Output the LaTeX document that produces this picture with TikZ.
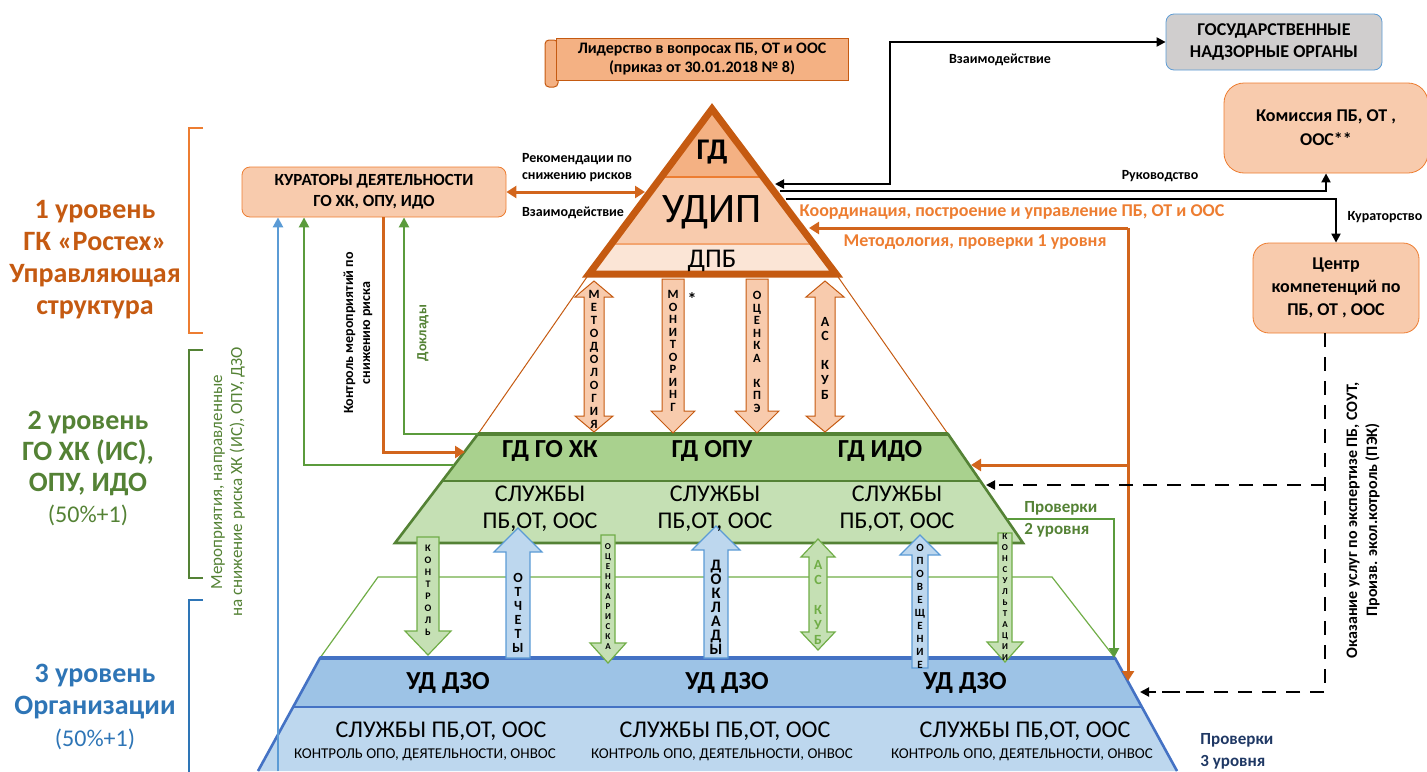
\documentclass[tikz,border=0pt]{standalone}
\usepackage{fontspec}
\setmainfont{Carlito}
\usepackage{xcolor}
\usepackage{tikz}
\usetikzlibrary{arrows.meta,positioning,calc}

\definecolor{orDark}{HTML}{C55A11}
\definecolor{orMid}{HTML}{ED7D31}
\definecolor{orLine}{HTML}{D2651C}
\definecolor{peachA}{HTML}{F4B183}
\definecolor{peachB}{HTML}{F8CBAD}
\definecolor{peachC}{HTML}{FBE5D6}
\definecolor{grDark}{HTML}{548235}
\definecolor{grMid}{HTML}{70AD47}
\definecolor{grLine}{HTML}{5B9B3C}
\definecolor{grA}{HTML}{A9D18E}
\definecolor{grB}{HTML}{C5E0B4}
\definecolor{blDark}{HTML}{4472C4}
\definecolor{blMid}{HTML}{5B9BD5}
\definecolor{blText}{HTML}{2E75B6}
\definecolor{blA}{HTML}{9DC3E6}
\definecolor{blB}{HTML}{BDD7EE}
\definecolor{navy}{HTML}{1F3864}
\definecolor{greyBox}{HTML}{D0CECE}

% block arrows: style, x, y from, y to, half shaft, half head, head length
\newcommand{\arrdown}[7]{\draw[#1] ({#2-#5},#3) -- ({#2+#5},#3) -- ({#2+#5},{#4-#7}) -- ({#2+#6},{#4-#7}) -- (#2,#4) -- ({#2-#6},{#4-#7}) -- ({#2-#5},{#4-#7}) -- cycle;}
\newcommand{\arrup}[7]{\draw[#1] ({#2-#5},#4) -- ({#2+#5},#4) -- ({#2+#5},{#3+#7}) -- ({#2+#6},{#3+#7}) -- (#2,#3) -- ({#2-#6},{#3+#7}) -- ({#2-#5},{#3+#7}) -- cycle;}
\newcommand{\arrboth}[7]{\draw[#1] (#2,#3) -- ({#2+#6},{#3+#7}) -- ({#2+#5},{#3+#7}) -- ({#2+#5},{#4-#7}) -- ({#2+#6},{#4-#7}) -- (#2,#4) -- ({#2-#6},{#4-#7}) -- ({#2-#5},{#4-#7}) -- ({#2-#5},{#3+#7}) -- ({#2-#6},{#3+#7}) -- cycle;}

\begin{document}
\begin{tikzpicture}[x=0.5pt, y=-0.5pt,
    every node/.style={inner sep=1pt},
    box/.style={draw, rounded corners=4pt, align=center, font=\fontsize{8.5}{10.5}\selectfont\bfseries},
    lbl/.style={align=center, font=\fontsize{7}{8.5}\selectfont\bfseries},
    olbl/.style={align=center, text=orMid, font=\fontsize{9}{11}\selectfont\bfseries},
    stack/.style={align=center, inner sep=0pt},
    bline/.style={draw, line width=1pt, -{Triangle[length=4.5pt,width=4.5pt]}},
    oline/.style={draw=orLine, line width=1.5pt, -{Triangle[length=5pt,width=6pt]}},
    gline/.style={draw=grLine, line width=1.2pt, -{Triangle[length=5pt,width=5pt]}},
    dline/.style={draw, line width=1pt, dash pattern=on 7pt off 5pt},
    upar/.style={draw=orDark, fill=peachB, line width=0.5pt},
    grar/.style={draw=grMid, fill=grB, line width=0.6pt},
    blar/.style={draw=blMid, fill=blB, line width=0.6pt},
]
\useasboundingbox (0,0) rectangle (1427,771);

% key points
\coordinate (apex) at (712,109);
\coordinate (tBL) at (589,274);
\coordinate (tBR) at (836,274);
\coordinate (gTL) at (478,434);
\coordinate (gTR) at (948,434);
\coordinate (gBR) at (1023,543);
\coordinate (gBL) at (395,543);
\coordinate (bTL) at (320,658);
\coordinate (bTR) at (1115,658);
\coordinate (bBR) at (1177,771);
\coordinate (bBL) at (258,771);

% thin level outlines
\draw[orDark, line width=0.5pt] (tBL) -- (gTL) (tBR) -- (gTR);
\draw[grMid, line width=0.6pt] (bTL) -- (378,577) -- (1052,577) -- (bTR);

% level 3
\fill[blA] (bTL) -- (bTR) -- (1142,707) -- (293,707) -- cycle;
\fill[blB] (293,707) -- (1142,707) -- (bBR) -- (bBL) -- cycle;
\draw[blDark, line width=0.8pt] (293,707) -- (1142,707);
\draw[blDark, line width=1.3pt] (bBL) -- (bTL) -- (bTR) -- (bBR);
\draw[blDark, line width=1.8pt] (bTL) -- (bTR);

% level 2
\fill[grA] (gTL) -- (gTR) -- (980,481) -- (442,481) -- cycle;
\fill[grB] (442,481) -- (980,481) -- (gBR) -- (gBL) -- cycle;
\draw[grDark, line width=1pt] (442,481) -- (980,481);
\draw[grDark, line width=1.3pt] (gTL) -- (gTR) -- (gBR) -- (gBL) -- cycle;
\draw[grDark, line width=2.2pt] (gTL) -- (gTR);

% level 1
\fill[peachA] (apex) -- (659,177) -- (765,177) -- cycle;
\fill[peachB] (659,177) -- (765,177) -- (815,244) -- (610,244) -- cycle;
\fill[peachC] (610,244) -- (815,244) -- (tBR) -- (tBL) -- cycle;
\draw[orMid, line width=1pt] (659,177) -- (765,177);
\draw[orMid!70, line width=0.7pt] (610,244) -- (815,244);
\draw[orDark, line width=3.5pt, line join=miter] (apex) -- (tBL) -- (tBR) -- cycle;

% block arrows 1 -> 2
\arrboth{upar}{594}{281}{432}{10}{19}{16}
\arrdown{upar}{673}{279}{433}{11}{22}{22}
\arrdown{upar}{757}{279}{433}{11}{22}{22}
\arrboth{upar}{825}{281}{432}{10}{19}{16}

% block arrows 2 <-> 3
\arrdown{grar}{428}{537}{655}{11}{23}{24}
\arrup{blar}{518}{528}{658}{12}{24}{24}
\arrdown{grar}{608}{535}{663}{7}{18}{20}
\arrup{blar}{716}{526}{658}{12}{24}{24}
\arrboth{grar}{818}{539}{650}{9}{17}{18}
\arrup{blar}{920}{535}{668}{8}{20}{20}
\arrdown{grar}{1005}{533}{662}{7}{18}{20}

% arrow letters
\node[stack, font=\fontsize{6.3}{6.5}\selectfont\bfseries] (sMet) at (594,359) {М\\Е\\Т\\О\\Д\\О\\Л\\О\\Г\\И\\Я};
\node[stack, font=\fontsize{6.3}{6.25}\selectfont\bfseries] (sMon) at (673,351) {М\\О\\Н\\И\\Т\\О\\Р\\И\\Н\\Г};
\node[stack, font=\fontsize{6.3}{6.25}\selectfont\bfseries] (sKpe) at (757,352) {О\\Ц\\Е\\Н\\К\\А\\[6.25pt]К\\П\\Э};
\node[stack, font=\fontsize{7}{7.3}\selectfont\bfseries] (sKub) at (825,358) {А\\С\\[7.3pt]К\\У\\Б};
\node[font=\fontsize{9}{9}\selectfont\bfseries] (star) at (692,299) {*};

\node[stack, font=\fontsize{5}{6}\selectfont\bfseries] (sKon) at (428,590) {К\\О\\Н\\Т\\Р\\О\\Л\\Ь};
\node[stack, font=\fontsize{7}{7}\selectfont\bfseries] (sOtc) at (518,613) {О\\Т\\Ч\\Е\\Т\\Ы};
\node[stack, font=\fontsize{4.5}{5}\selectfont\bfseries] (sRis) at (608,597) {О\\Ц\\Е\\Н\\К\\А\\Р\\И\\С\\К\\А};
\node[stack, font=\fontsize{8}{7}\selectfont\bfseries] (sDok) at (716,607) {Д\\О\\К\\Л\\А\\Д\\Ы};
\node[stack, text=grMid, font=\fontsize{7}{7.5}\selectfont\bfseries] (sKub2) at (818,602) {А\\С\\[7.5pt]К\\У\\Б};
\node[stack, font=\fontsize{5.5}{6.5}\selectfont\bfseries] (sOpo) at (920,606) {О\\П\\О\\В\\Е\\Щ\\Е\\Н\\И\\Е};
\node[stack, font=\fontsize{4.5}{5.5}\selectfont\bfseries] (sKons) at (1005,597) {К\\О\\Н\\С\\У\\Л\\Ь\\Т\\А\\Ц\\И\\И};

% pyramid texts
\node[font=\fontsize{15}{15}\selectfont\bfseries] (gd) at (712,152) {ГД};
\node[font=\fontsize{21}{21}\selectfont] (udip) at (712,212) {УДИП};
\node[font=\fontsize{13.5}{13.5}\selectfont] (dpb) at (712,261) {ДПБ};

\node[font=\fontsize{13}{13}\selectfont\bfseries] (gdGo) at (550,451) {ГД ГО ХК};
\node[font=\fontsize{13}{13}\selectfont\bfseries] (gdOpu) at (712,451) {ГД ОПУ};
\node[font=\fontsize{13}{13}\selectfont\bfseries] (gdIdo) at (880,451) {ГД ИДО};
\node[align=center, font=\fontsize{12}{13.5}\selectfont] (srv1) at (540,509) {СЛУЖБЫ\\ПБ,ОТ, ООС};
\node[align=center, font=\fontsize{12}{13.5}\selectfont] (srv2) at (715,509) {СЛУЖБЫ\\ПБ,ОТ, ООС};
\node[align=center, font=\fontsize{12}{13.5}\selectfont] (srv3) at (897,509) {СЛУЖБЫ\\ПБ,ОТ, ООС};

\node[font=\fontsize{13}{13}\selectfont\bfseries] (ud1) at (448,683) {УД ДЗО};
\node[font=\fontsize{13}{13}\selectfont\bfseries] (ud2) at (727,683) {УД ДЗО};
\node[font=\fontsize{13}{13}\selectfont\bfseries] (ud3) at (965,683) {УД ДЗО};
\node[font=\fontsize{12}{12}\selectfont] (srvB1) at (441,731) {СЛУЖБЫ ПБ,ОТ, ООС};
\node[font=\fontsize{12}{12}\selectfont] (srvB2) at (725,731) {СЛУЖБЫ ПБ,ОТ, ООС};
\node[font=\fontsize{12}{12}\selectfont] (srvB3) at (1025,731) {СЛУЖБЫ ПБ,ОТ, ООС};
\node[font=\fontsize{7.5}{7.5}\selectfont] (ctl1) at (425,755) {КОНТРОЛЬ ОПО, ДЕЯТЕЛЬНОСТИ, ОНВОС};
\node[font=\fontsize{7.5}{7.5}\selectfont] (ctl2) at (722,755) {КОНТРОЛЬ ОПО, ДЕЯТЕЛЬНОСТИ, ОНВОС};
\node[font=\fontsize{7.5}{7.5}\selectfont] (ctl3) at (1022,755) {КОНТРОЛЬ ОПО, ДЕЯТЕЛЬНОСТИ, ОНВОС};

% boxes
\draw[orDark, fill=peachA, line width=0.5pt, rounded corners=2pt] (545,40) rectangle (558,87);
\node[draw=orDark, fill=peachA, line width=0.5pt, minimum width=146pt, minimum height=21pt, align=center,
      font=\fontsize{8}{9.5}\selectfont\bfseries] (lead) at (702,59)
      {Лидерство в вопросах ПБ, ОТ и ООС\\(приказ от 30.01.2018 № 8)};
\node[box, draw=blMid, fill=greyBox, minimum width=108pt, minimum height=28pt, font=\fontsize{9}{11}\selectfont\bfseries] (gov) at (1274,42) {ГОСУДАРСТВЕННЫЕ\\НАДЗОРНЫЕ ОРГАНЫ};
\node[box, draw=orMid, fill=peachB, rounded corners=10pt, minimum width=102pt, minimum height=45pt, font=\fontsize{9}{12}\selectfont\bfseries] (kom) at (1326,128) {Комиссия ПБ, ОТ ,\\ООС**};
\node[box, draw=orMid, fill=peachB, rounded corners=8pt, minimum width=83pt, minimum height=45pt, font=\fontsize{9}{11.5}\selectfont\bfseries] (cen) at (1336,288) {Центр\\компетенций по\\ПБ, ОТ , ООС};
\node[box, draw=orMid, fill=peachB, minimum width=132pt, minimum height=25pt] (cur) at (374,192) {КУРАТОРЫ ДЕЯТЕЛЬНОСТИ\\ГО ХК, ОПУ, ИДО};

% edge points
\coordinate (tR1) at (775,184);
\coordinate (tR2) at (780,191);
\coordinate (tR3) at (786,199);
\coordinate (tR4) at (809,228);
\coordinate (tL1) at (645,192);
\coordinate (oCorner) at (1128,228);
\coordinate (oMid) at (1128,465);
\coordinate (bR1) at (1128,681);
\coordinate (gR1) at (971,465);
\coordinate (gR2) at (986,485);
\coordinate (gR3) at (1007,519);
\coordinate (bTR2) at (1114,658);
\coordinate (dTop) at (1325,333);
\coordinate (dMid) at (1325,485);
\coordinate (bR2) at (1140,692);
\coordinate (gL1) at (454,465);
\coordinate (gL2) at (465,452);
\coordinate (bL0) at (278,771);

% connectors top right
\draw[bline, {Triangle[length=4.5pt,width=4.5pt]}-{Triangle[length=4.5pt,width=4.5pt]}] (tR1) -- (890,184) |- (gov.west);
\draw[bline] (tR2) -| (kom.south);
\draw[bline] (tR3) -| (cen.north);
\draw[oline] (oCorner) -- (tR4);
\draw[oline] (oCorner) -- (bR1);
\draw[oline] (oMid) -- (gR1);
\draw[gline] (gR3) -| (bTR2);
\draw[dline] (dTop) |- (bR2);
\draw[dline, -{Triangle[length=4.5pt,width=4.5pt]}] (dMid) -- (gR2);
\draw[dline, -{Triangle[length=4.5pt,width=4.5pt]}] (1200,692) -- (bR2);

% connectors left
\draw[oline, {Triangle[length=5pt,width=6pt]}-{Triangle[length=5pt,width=6pt]}] (cur.east) -- (tL1);
\draw[draw=blMid, line width=1.4pt, -{Triangle[length=5pt,width=5pt]}] (bL0) -- (bL0 |- cur.south);
\draw[gline] (gL1) -| (304,0 |- cur.south);
\draw[oline] (383,0 |- cur.south) |- (gL2);
\draw[gline] (gTL) -| (404,0 |- cur.south);

% connector labels
\node[lbl] (lInt) at (1000,60) {Взаимодействие};
\node[lbl] (lRuk) at (1160,176) {Руководство};
\node[lbl] (lKur) at (1385,217) {Кураторство};
\node[lbl] (lRec) at (577,168) {Рекомендации по\\снижению рисков};
\node[lbl] (lInt2) at (573,213) {Взаимодействие};
\node[olbl] (lCoord) at (1012,212) {Координация, построение и управление ПБ, ОТ и ООС};
\node[olbl] (lMeth) at (975,242) {Методология, проверки 1 уровня};
\node[lbl, rotate=90] (lCtl) at (358,333) {Контроль мероприятий по\\снижению риска};
\node[lbl, rotate=90, text=grDark] (lDok) at (423,333) {Доклады};
\node[anchor=west, align=left, text=grDark, font=\fontsize{8.5}{11}\selectfont\bfseries] (lChk2) at (1022,519) {Проверки\\2 уровня};
\node[anchor=west, align=left, text=navy, font=\fontsize{8.5}{11}\selectfont\bfseries] (lChk3) at (1198,751) {Проверки\\3 уровня};
\node[lbl, rotate=90, font=\fontsize{8}{10}\selectfont\bfseries] (lSrv) at (1363,520) {Оказание услуг по экспертизе  ПБ, СОУТ,\\Произв. экол.котроль (ПЭК)};

% level brackets and captions
\draw[orMid, line width=1pt] (203,128) -- (189,128) -- (189,333) -- (203,333);
\draw[grDark, line width=1pt] (203,350) -- (189,350) -- (189,578) -- (203,578);
\draw[blText, line width=1pt] (203,600) -- (189,600) -- (189,775);
\node[align=center, text=orDark, font=\fontsize{14}{16}\selectfont\bfseries] (lev1) at (95,260) {1 уровень\\ГК «Ростех»\\Управляющая\\структура};
\node[align=center, text=grDark, font=\fontsize{14}{15.5}\selectfont\bfseries] (lev2) at (88,468) {2 уровень\\ГО ХК (ИС),\\ОПУ, ИДО\\{\mdseries\fontsize{12}{14}\selectfont (50\%+1)}};
\node[align=center, text=blText, font=\fontsize{14}{16}\selectfont\bfseries] (lev3) at (95,707) {3 уровень\\Организации\\{\mdseries\fontsize{12}{14}\selectfont (50\%+1)}};
\node[rotate=90, align=center, text=grDark, font=\fontsize{8.5}{10}\selectfont] (lMer) at (228,482) {Мероприятия, направленные\\на снижение риска ХК (ИС), ОПУ, ДЗО};
\end{tikzpicture}
\end{document}
